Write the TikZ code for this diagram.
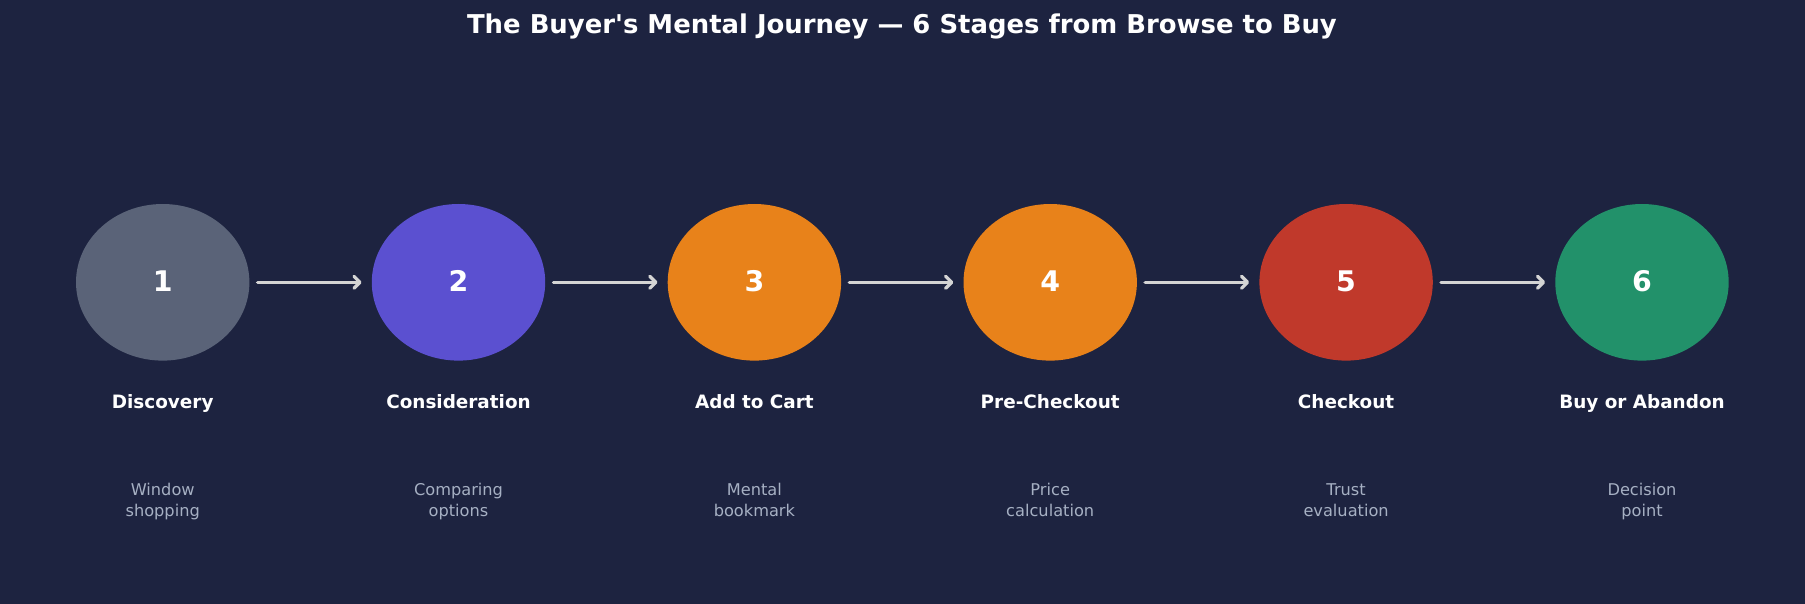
\documentclass[tikz,border=0pt]{standalone}
\usepackage{fontspec}
\setmainfont{DejaVu Sans}[Ligatures=TeXOff]
\usetikzlibrary{shapes.geometric,arrows.meta}
\definecolor{bg}{HTML}{1D2340}
\definecolor{cgray}{HTML}{5A6378}
\definecolor{cpurple}{HTML}{5B50D0}
\definecolor{corange}{HTML}{E8821A}
\definecolor{cred}{HTML}{C0392B}
\definecolor{cgreen}{HTML}{22916A}
\definecolor{subtxt}{HTML}{A6B0C3}
\definecolor{arrcol}{HTML}{D4D4D4}
\tikzset{
  stage/.style={ellipse,inner sep=0pt,minimum width=173.4pt,minimum height=156.6pt,
    text=white,font=\bfseries\fontsize{28.4}{28}\selectfont},
  lbl/.style={text=white,font=\bfseries\fontsize{18.4}{22}\selectfont},
  sub/.style={text=subtxt,align=center,font=\fontsize{16.2}{21}\selectfont},
  flow/.style={draw=arrcol,line width=3.3pt,line cap=round,
    -{Straight Barb[length=6pt,width=12pt,line cap=round,line join=round]},
    shorten <=8pt,shorten >=10pt}
}
\newcommand{\num}[1]{\raisebox{2.5pt}{#1}}
\begin{document}
\begin{tikzpicture}[x=1pt,y=-1pt]
\fill[bg] (0,0) rectangle (1805,604);
\useasboundingbox (0,0) rectangle (1805,604);
\node[text=white,font=\bfseries\fontsize{25.9}{30}\selectfont] (title) at (902,26.5) {The Buyer's Mental Journey — 6 Stages from Browse to Buy};
\node[stage,fill=cgray] (c1) at (162.7,282.3) {\num{1}};
\node[stage,fill=cpurple] (c2) at (458.5,282.3) {\num{2}};
\node[stage,fill=corange] (c3) at (754.4,282.3) {\num{3}};
\node[stage,fill=corange] (c4) at (1050.2,282.3) {\num{4}};
\node[stage,fill=cred] (c5) at (1346.1,282.3) {\num{5}};
\node[stage,fill=cgreen] (c6) at (1642,282.3) {\num{6}};
\node[lbl] (l1) at (162.7,403.6) {Discovery\strut};
\node[lbl] (l2) at (458.5,403.6) {Consideration\strut};
\node[lbl] (l3) at (754.4,403.6) {Add to Cart\strut};
\node[lbl] (l4) at (1050.2,403.6) {Pre-Checkout\strut};
\node[lbl] (l5) at (1346.1,403.6) {Checkout\strut};
\node[lbl] (l6) at (1642,403.6) {Buy or Abandon\strut};
\node[sub] (s1) at (162.7,501.5) {Window\strut\\shopping\strut};
\node[sub] (s2) at (458.5,501.5) {Comparing\strut\\options\strut};
\node[sub] (s3) at (754.4,501.5) {Mental\strut\\bookmark\strut};
\node[sub] (s4) at (1050.2,501.5) {Price\strut\\calculation\strut};
\node[sub] (s5) at (1346.1,501.5) {Trust\strut\\evaluation\strut};
\node[sub] (s6) at (1642,501.5) {Decision\strut\\point\strut};
\draw[flow] (c1) -- (c2);
\draw[flow] (c2) -- (c3);
\draw[flow] (c3) -- (c4);
\draw[flow] (c4) -- (c5);
\draw[flow] (c5) -- (c6);
\end{tikzpicture}
\end{document}
